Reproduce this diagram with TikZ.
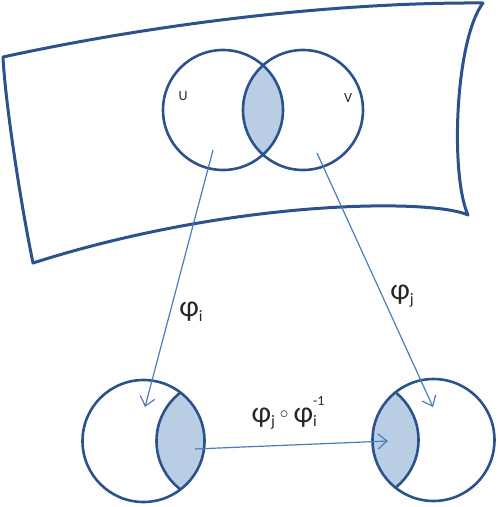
\documentclass[tikz,border=0pt]{standalone}
\usepackage{fontspec}
\setmainfont{Carlito}
\usetikzlibrary{arrows.meta}
\definecolor{outl}{RGB}{44,82,140}
\definecolor{lens}{RGB}{185,205,229}
\definecolor{arr}{RGB}{74,126,187}
\newcommand{\phisub}[1]{φ\raisebox{-0.3ex}{\fontsize{16}{16}\selectfont #1}}
\begin{document}
\begin{tikzpicture}[x=1pt,y=-1pt,
  circ/.style={circle,draw=outl,line width=2.6pt,minimum size=120pt,inner sep=0pt},
  mapping/.style={draw=arr,line width=1.2pt,-{Straight Barb[length=9pt,width=15pt,line width=1.2pt]}},
  lbl/.style={font=\fontsize{30}{30}\selectfont,text=black!85,inner sep=0pt},
  small/.style={font=\fontsize{14}{14}\selectfont,text=black!85,inner sep=0pt}]
\useasboundingbox (0,0) rectangle (498,507);
% surface
\draw[outl,line width=3pt,line join=round]
  (3,57) .. controls (150,25) and (330,2) .. (483,3)
  .. controls (455,40) and (450,175) .. (468,215)
  .. controls (430,198) and (230,200) .. (33,263)
  .. controls (20,200) and (5,100) .. cycle;
% top lens
\begin{scope}
  \clip (223,110) circle (60);
  \fill[lens] (303,110) circle (60);
\end{scope}
\node[circ] (U) at (223,110) {};
\node[circ] (V) at (303,110) {};
\node[small] (lu) at (183,96) {U};
\node[small] (lv) at (348,98) {V};
% bottom left
\begin{scope}
  \clip (143.5,441) circle (61);
  \fill[lens] (217.5,441) circle (61);
  \draw[outl,line width=2.6pt] (217.5,441) circle (61);
\end{scope}
\node[circ,minimum size=122pt] (A) at (143.5,441) {};
% bottom right
\begin{scope}
  \clip (433.5,440) circle (61);
  \fill[lens] (357.5,440) circle (61);
  \draw[outl,line width=2.6pt] (357.5,440) circle (61);
\end{scope}
\node[circ,minimum size=122pt] (B) at (433.5,440) {};
% connectors
\coordinate (us) at (213,150);
\coordinate (vs) at (317,153);
\coordinate (ae) at (145,407);
\coordinate (be) at (433,407);
\coordinate (as) at (195,449);
\coordinate (bs) at (388,441);
\draw[mapping] (us) -- (ae);
\draw[mapping] (vs) -- (be);
\draw[mapping] (as) -- (bs);
\node[lbl] (pi) at (191,312) {\phisub{i}};
\node[lbl] (pj) at (402,296) {\phisub{j}};
\node[lbl] (pc) at (288,413) {\phisub{j}\,\raisebox{0.3ex}{\fontsize{16}{16}\selectfont$\circ$}\,φ\rlap{\raisebox{-0.3ex}{\fontsize{16}{16}\selectfont i}}\raisebox{1.2ex}{\fontsize{14}{14}\selectfont -1}};
\end{tikzpicture}
\end{document}
